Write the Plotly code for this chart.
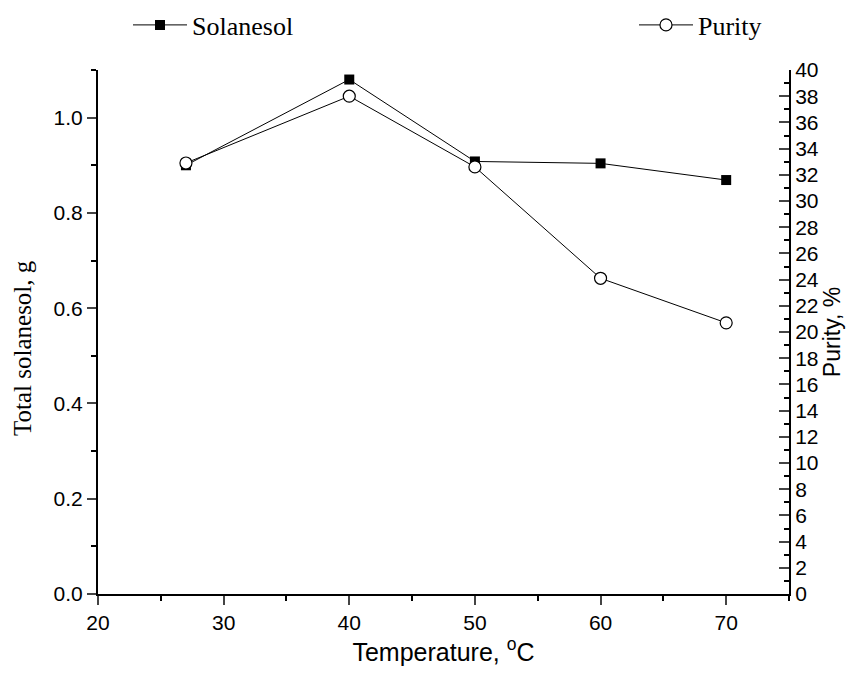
import plotly.graph_objects as go

temperature = [27, 40, 50, 60, 70]
solanesol_g = [0.900, 1.080, 0.908, 0.904, 0.869]
purity_pct = [32.9, 38.0, 32.6, 24.1, 20.7]

SANS = "Liberation Sans, Arial, sans-serif"
SERIF = "Liberation Serif, Times New Roman, serif"

fig = go.Figure()
fig.add_trace(go.Scatter(
    x=temperature, y=solanesol_g, name="Solanesol", mode="lines+markers",
    line=dict(color="black", width=1),
    marker=dict(symbol="square", size=10, color="black", line=dict(width=0)),
    yaxis="y", legend="legend", showlegend=True))
fig.add_trace(go.Scatter(
    x=temperature, y=purity_pct, name="Purity", mode="lines+markers",
    line=dict(color="black", width=1),
    marker=dict(symbol="circle", size=12, color="white", line=dict(color="black", width=1.2)),
    yaxis="y2", legend="legend2", showlegend=True))

W, H = 861, 675
ML, MR, MT, MB = 98, 72, 70, 81

leg_common = dict(xref="container", yref="container", y=(H - 25) / H,
                  xanchor="left", yanchor="middle", bgcolor="rgba(0,0,0,0)",
                  orientation="h", itemwidth=54,
                  font=dict(family=SERIF, size=26))

fig.update_layout(
    width=W, height=H, showlegend=True,
    margin=dict(l=ML, r=MR, t=MT, b=MB, autoexpand=False),
    paper_bgcolor="white", plot_bgcolor="white",
    font=dict(family=SANS, size=21, color="black"),
    xaxis=dict(range=[20, 75], tick0=20, dtick=10, ticks="outside", ticklen=9, tickwidth=1.5,
               showline=True, linecolor="black", linewidth=2, showgrid=False, zeroline=False,
               minor=dict(dtick=5, tick0=20, ticks="outside", ticklen=5, tickwidth=1.5, tickcolor="black", showgrid=False),
               tickfont=dict(family=SANS, size=21),
               title=dict(text="Temperature, <sup>o</sup>C", font=dict(family=SANS, size=25), standoff=10)),
    yaxis=dict(range=[0, 1.1], tick0=0, dtick=0.2, tickformat=".1f", ticks="outside", ticklen=9, tickwidth=1.5,
               showline=True, linecolor="black", linewidth=2, showgrid=False, zeroline=False,
               minor=dict(dtick=0.1, tick0=0, ticks="outside", ticklen=5, tickwidth=1.5, tickcolor="black", showgrid=False),
               tickfont=dict(family=SANS, size=21)),
    yaxis2=dict(range=[0, 40], tick0=0, dtick=2, overlaying="y", side="right", anchor="x",
                ticks="inside", ticklen=10, tickwidth=1.5,
                showline=True, linecolor="black", linewidth=2, showgrid=False, zeroline=False,
                minor=dict(dtick=1, tick0=0, ticks="inside", ticklen=5, tickwidth=1.5, tickcolor="black", showgrid=False),
                tickfont=dict(family=SANS, size=21),
                title=dict(text="Purity, %", font=dict(family=SANS, size=23), standoff=4)),
    legend=dict(x=128 / W, **leg_common),
    legend2=dict(x=634 / W, **leg_common),
    annotations=[dict(text="Total solanesol, g", xref="paper", yref="paper",
                      x=(22 - ML) / (W - ML - MR), y=(H - MB - 348) / (H - MT - MB),
                      xanchor="center", yanchor="middle",
                      showarrow=False, textangle=-90, font=dict(family=SERIF, size=25))],
)

fig.write_html("out.html")
